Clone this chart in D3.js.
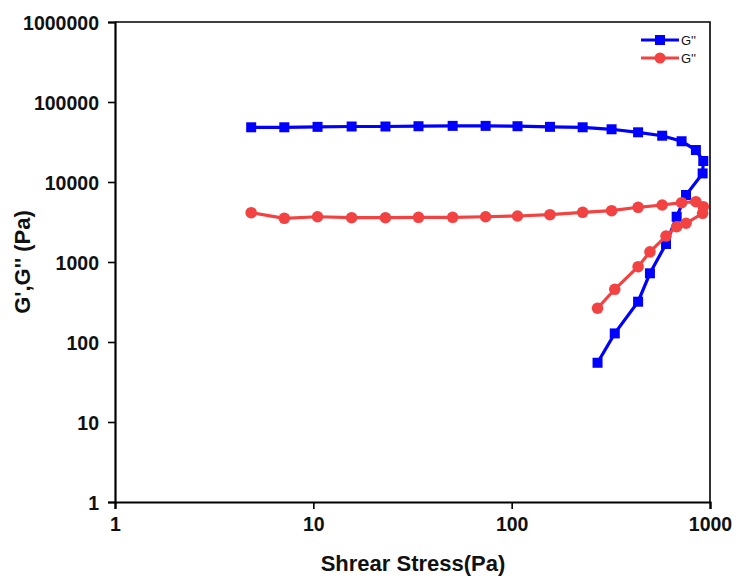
<!DOCTYPE html>
<html>
<head>
<meta charset="utf-8">
<script src="https://cdn.jsdelivr.net/npm/d3@7"></script>
<style>
  body { margin: 0; background: #fff; }
  text { font-family: "Liberation Sans", Arial, sans-serif; font-weight: bold; }
</style>
</head>
<body>
<script>
// shear stress (Pa): sweep up then the curve turns back
var stress = [4.86, 7.14, 10.5, 15.6, 23.1, 33.9, 50.4, 73.9, 107, 156, 228,
              319, 434, 574, 719, 849, 925, 918, 757, 679, 600, 498, 434, 331, 271];
var gPrime = [48300, 48300, 48900, 49400, 49400, 49800, 50300, 50300, 49800, 48900, 48300,
              45600, 41800, 37900, 32300, 25100, 18300, 12800, 6880, 3680, 1680, 722, 319, 128, 55];
var gDouble = [4130, 3520, 3680, 3580, 3580, 3620, 3620, 3680, 3760, 3900, 4180,
               4380, 4830, 5160, 5510, 5670, 4910, 4060, 3050, 2760, 2110, 1340, 873, 456, 264];
var xTicks = [1, 10, 100, 1000];
var yTicks = [1, 10, 100, 1000, 10000, 100000, 1000000];
var legendNames = ["G''", "G''"];

var W = 737, H = 578;
var m = {left: 115, right: 27, top: 22, bottom: 76};

var svg = d3.select("body").append("svg")
    .attr("width", W)
    .attr("height", H);

var x = d3.scaleLog().domain([1, 1000]).range([m.left, W - m.right]);
var y = d3.scaleLog().domain([1, 1000000]).range([H - m.bottom, m.top]);

// minor ticks (2..9 in each decade)
var xMinor = [], yMinor = [];
for (var d = 1; d < 1000; d *= 10) for (var k = 2; k < 10; k++) xMinor.push(d * k);
for (var d = 1; d < 1000000; d *= 10) for (var k = 2; k < 10; k++) yMinor.push(d * k);

// frame top + right
svg.append("path")
    .attr("d", "M" + m.left + "," + m.top + "H" + (W - m.right) + "V" + (H - m.bottom))
    .attr("fill", "none").attr("stroke", "#000").attr("stroke-width", 1.6);

var xAxis = svg.append("g").attr("transform", "translate(0," + (H - m.bottom) + ")");
xAxis.call(d3.axisBottom(x).tickValues(xMinor).tickSize(3.5).tickFormat(""));
xAxis.call(d3.axisBottom(x).tickValues(xTicks).tickSize(7).tickPadding(6).tickFormat(d3.format("d")));
xAxis.selectAll(".domain").attr("stroke-width", 2.2);
xAxis.selectAll(".tick line").attr("stroke-width", 1.6);
xAxis.selectAll("text")
    .attr("y", 29).attr("dy", 0)
    .style("font-size", "19.5px").attr("fill", "#111");

var yAxis = svg.append("g").attr("transform", "translate(" + m.left + ",0)");
yAxis.call(d3.axisLeft(y).tickValues(yMinor).tickSize(3.5).tickFormat(""));
yAxis.call(d3.axisLeft(y).tickValues(yTicks).tickSize(7).tickPadding(9).tickFormat(d3.format("d")));
yAxis.selectAll(".domain").attr("stroke-width", 2.2);
yAxis.selectAll(".tick line").attr("stroke-width", 1.6);
yAxis.selectAll("text")
    .attr("dy", "0.36em")
    .style("font-size", "19.5px").attr("fill", "#111");

svg.selectAll(".domain").attr("stroke", "#000");

// axis titles
svg.append("text")
    .attr("x", 413)
    .attr("y", 571)
    .attr("text-anchor", "middle")
    .style("font-size", "22px")
    .attr("fill", "#111")
    .text("Shrear Stress(Pa)");

svg.append("text")
    .attr("transform", "translate(30,262) rotate(-90)")
    .attr("text-anchor", "middle")
    .style("font-size", "22px")
    .attr("fill", "#111")
    .text("G',G'' (Pa)");

var series = [
  {vals: gPrime, color: "#0000ff", shape: "square"},
  {vals: gDouble, color: "#f24242", shape: "circle"}
];

var line = d3.line()
    .x(function (d) { return x(d[0]); })
    .y(function (d) { return y(d[1]); });

series.forEach(function (s) {
  var pts = stress.map(function (v, i) { return [v, s.vals[i]]; });
  svg.append("path")
      .datum(pts)
      .attr("d", line)
      .attr("fill", "none")
      .attr("stroke", s.color)
      .attr("stroke-width", 3.2);
  var g = svg.append("g");
  if (s.shape === "square") {
    g.selectAll("rect").data(pts).enter().append("rect")
        .attr("x", function (d) { return x(d[0]) - 5; })
        .attr("y", function (d) { return y(d[1]) - 5; })
        .attr("width", 10).attr("height", 10)
        .attr("fill", s.color);
  } else {
    g.selectAll("circle").data(pts).enter().append("circle")
        .attr("cx", function (d) { return x(d[0]); })
        .attr("cy", function (d) { return y(d[1]); })
        .attr("r", 5.8)
        .attr("fill", s.color);
  }
});

// legend
var leg = svg.append("g").attr("transform", "translate(641,40)");
series.forEach(function (s, i) {
  var row = leg.append("g").attr("transform", "translate(0," + (i * 18) + ")");
  row.append("line").attr("x1", 0).attr("x2", 38).attr("y1", 0).attr("y2", 0)
      .attr("stroke", s.color).attr("stroke-width", 3.2);
  if (s.shape === "square") {
    row.append("rect").attr("x", 14).attr("y", -5).attr("width", 10).attr("height", 10).attr("fill", s.color);
  } else {
    row.append("circle").attr("cx", 19).attr("cy", 0).attr("r", 5.5).attr("fill", s.color);
  }
  row.append("text").attr("x", 40).attr("y", 5)
      .style("font-size", "13px").style("font-weight", "normal").attr("fill", "#111")
      .text(legendNames[i]);
});
</script>
</body>
</html>
